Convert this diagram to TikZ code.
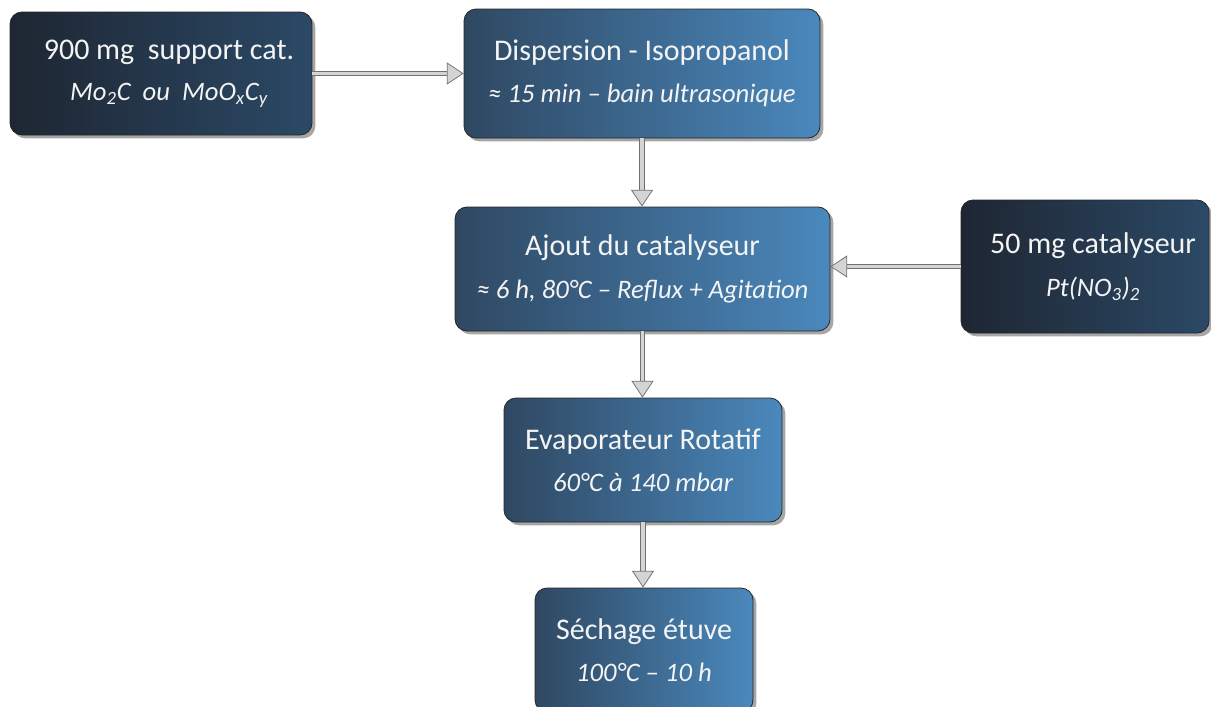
\documentclass[tikz,border=0pt]{standalone}
\usepackage{fontspec}
\setmainfont{Carlito}
\usetikzlibrary{arrows.meta,shadows}
\definecolor{darkL}{HTML}{1E2632}
\definecolor{darkR}{HTML}{2B4966}
\definecolor{blueL}{HTML}{2F4862}
\definecolor{blueR}{HTML}{4A88BC}
\definecolor{arrowline}{HTML}{707070}
\definecolor{arrowfill}{HTML}{D4D4D4}
\definecolor{txt}{HTML}{F4F4F4}
\newcommand\mainsz{\fontsize{22.5pt}{27pt}\selectfont}
\newcommand\subsz{\itshape\fontsize{20pt}{24pt}\selectfont}
\newcommand\indt{\hspace*{12pt}}
\tikzset{
 box/.style={rounded corners=9pt, draw=black!85, line width=0.6pt, text=txt, align=center, inner sep=0pt,
   drop shadow={shadow xshift=2.5pt, shadow yshift=-2.5pt, fill=black, opacity=0.35}},
 darkbox/.style={box, left color=darkL, right color=darkR},
 bluebox/.style={box, left color=blueL, right color=blueR},
 conn/.style={draw=arrowline, line width=0.6pt, double=arrowfill, double distance=2.8pt,
   -{Triangle[length=12.5pt, width=16.5pt, fill=arrowfill, line width=0.6pt]}},
}
\begin{document}
\begin{tikzpicture}[x=0.75pt,y=-0.75pt]
\useasboundingbox (0,0) rectangle (1211,707);
\node[darkbox, minimum width=226.5pt, minimum height=92.25pt] (A) at (161,73.5)
  {{\mainsz\indt 900 mg\ \ support cat.}\\[13pt]{\subsz\indt Mo\textsubscript{2}C\ \ ou\ \ MoO\textsubscript{x}C\textsubscript{y}}};
\node[bluebox, minimum width=267pt, minimum height=96.75pt] (B) at (642,73.5)
  {{\mainsz Dispersion - Isopropanol}\\[13pt]{\subsz ≈ 15 min – bain ultrasonique}};
\node[bluebox, minimum width=281.25pt, minimum height=93pt] (C) at (642.5,269)
  {{\mainsz Ajout du catalyseur}\\[13pt]{\subsz ≈ 6 h, 80°C – Reflux + Agitation}};
\node[darkbox, minimum width=186pt, minimum height=99.75pt] (D) at (1085,266.5)
  {{\mainsz\indt 50 mg catalyseur}\\[13pt]{\subsz\indt Pt(NO\textsubscript{3})\textsubscript{2}}};
\node[bluebox, minimum width=208.5pt, minimum height=93pt] (E) at (643,460)
  {{\mainsz Evaporateur Rotatif}\\[13pt]{\subsz 60°C à 140 mbar}};
\node[bluebox, minimum width=163.5pt, minimum height=93pt] (F) at (644,650)
  {{\mainsz Séchage étuve}\\[13pt]{\subsz 100°C – 10 h}};
\draw[conn] (A.east) -- (B.west);
\draw[conn] (B.south) -- (B.south |- C.north);
\draw[conn] (D.west) -- (D.west -| C.east);
\draw[conn] (C.south) -- (C.south |- E.north);
\draw[conn] (E.south) -- (E.south |- F.north);
\end{tikzpicture}
\end{document}
